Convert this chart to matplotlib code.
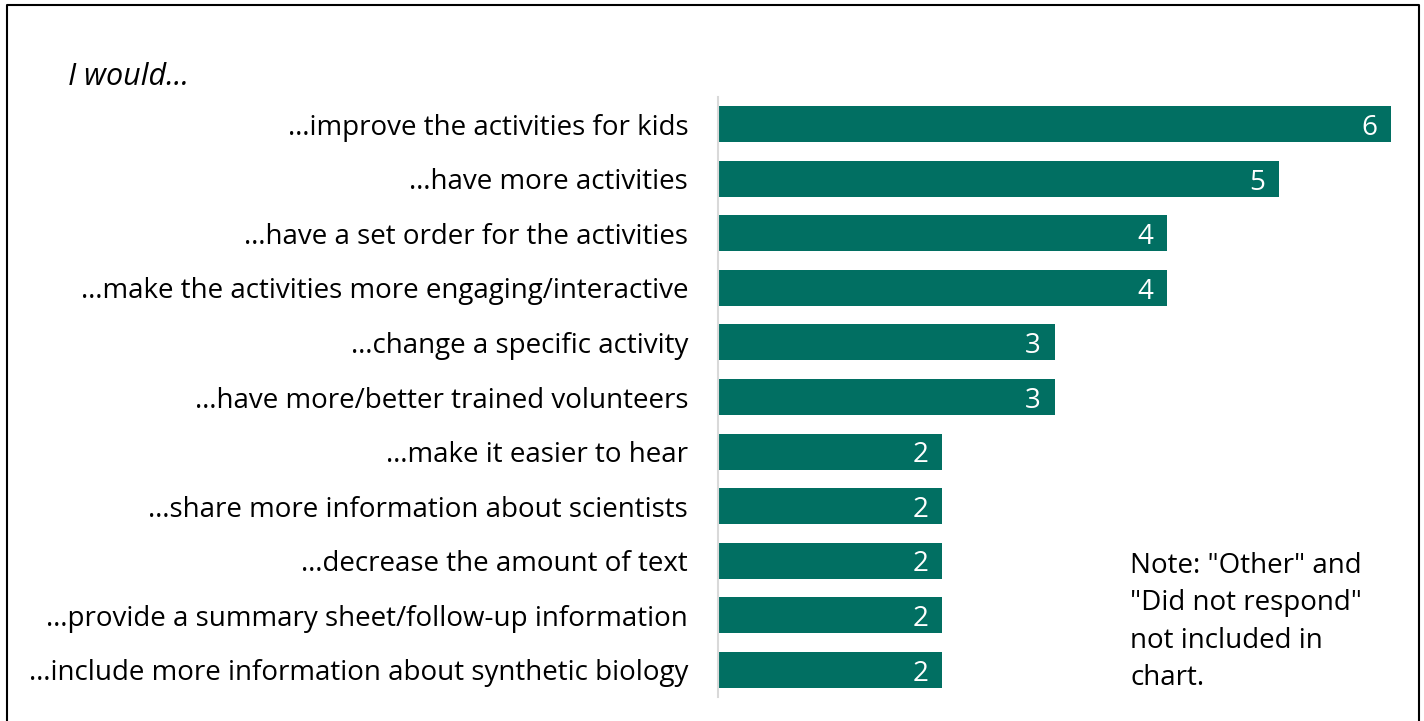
import matplotlib
matplotlib.use("Agg")
import matplotlib.pyplot as plt
from matplotlib.lines import Line2D

# ----- DATA -----
categories = [
    "\u2026improve the activities for kids",
    "\u2026have more activities",
    "\u2026have a set order for the activities",
    "\u2026make the activities more engaging/interactive",
    "\u2026change a specific activity",
    "\u2026have more/better trained volunteers",
    "\u2026make it easier to hear",
    "\u2026share more information about scientists",
    "\u2026decrease the amount of text",
    "\u2026provide a summary sheet/follow-up information",
    "\u2026include more information about synthetic biology",
]
counts = [6, 5, 4, 4, 3, 3, 2, 2, 2, 2, 2]

header = "I would..."
note = 'Note: "Other" and\n"Did not respond"\nnot included in\nchart.'

bar_color = "#016f62"
plt.rcParams["font.family"] = ["Open Sans", "DejaVu Sans"]
FS = 20

# ----- PLOT -----
W, H = 1424, 721
fig = plt.figure(figsize=(W / 100, H / 100), dpi=100)
ax = fig.add_axes([718 / W, 1 - 697 / H, (1391 - 718) / W, (697 - 97) / H])

y = list(range(len(categories)))
ax.barh(y, counts, height=0.66, color=bar_color)
ax.set_xlim(0, 6)
ax.set_ylim(len(categories) - 0.5, -0.5)

for yi, v in zip(y, counts):
    ax.text(v - 0.12, yi + 0.07, str(v), ha="right", va="center", color="white", fontsize=FS)

ax.set_yticks(y)
ax.set_yticklabels(categories, fontsize=FS)
ax.tick_params(axis="y", length=0, pad=21.5)
ax.set_xticks([])
for s in ["top", "right", "bottom"]:
    ax.spines[s].set_visible(False)
ax.spines["left"].set_color("#d9d9d9")
ax.spines["left"].set_linewidth(1.5)

fig.text(68 / W, 1 - 77 / H, header, fontsize=22, style="italic", ha="left", va="center")
fig.text(1130 / W, 1 - 552 / H, note, fontsize=FS, ha="left", va="top", linespacing=1.45)

# frame around the chart (bottom edge is cut off in the original)
fx = [7 / W, 7 / W, 1419 / W, 1419 / W]
fy = [0, 1 - 5 / H, 1 - 5 / H, 0]
fig.add_artist(Line2D(fx, fy, transform=fig.transFigure, color="black", linewidth=1.5))

fig.savefig("out.png", dpi=100)
